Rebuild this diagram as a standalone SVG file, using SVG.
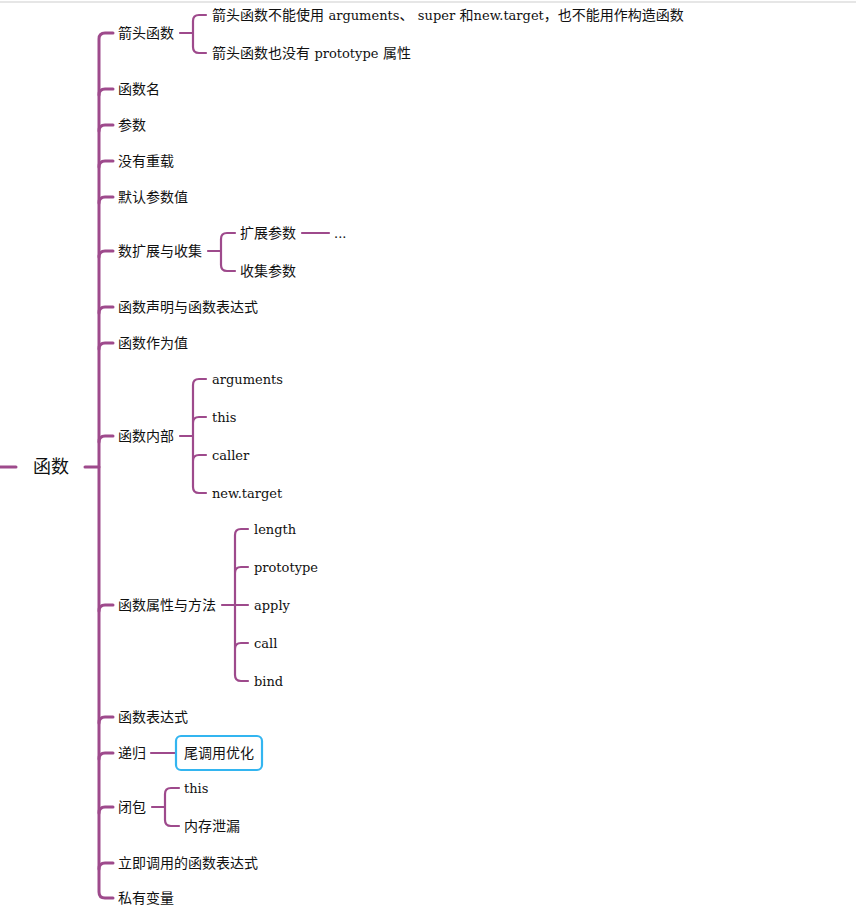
<svg xmlns="http://www.w3.org/2000/svg" width="856" height="911" viewBox="0 0 856 911">
<style>
  text { font-family: "DejaVu Serif", "Noto Sans CJK SC", serif; font-size: 14px; fill: #111; }
  .l { font-size: 13px; }
  .root { font-size: 18px; }
  .main { fill: none; stroke: #9E4A8C; stroke-width: 3; stroke-linecap: round; }
  .sub { fill: none; stroke: #9E4A8C; stroke-width: 2.2; stroke-linecap: round; }
  .box { fill: #fff; stroke: #33B5F0; stroke-width: 2.2; }
</style>
<rect x="0" y="0" width="856" height="911" fill="#fff"/>
<line x1="0" y1="2" x2="856" y2="2" stroke="#e6e6e6" stroke-width="2"/>
<g id="connectors">
  <path class="main" d="M0,467 H16 M85,467 H99"/>
  <path class="main" d="M113,33 H105 Q99,33 99,39 V892 Q99,898 105,898 H113"/>
  <path class="main" d="M99,95 Q99,89 105,89 H113 M99,131 Q99,125 105,125 H113 M99,167 Q99,161 105,161 H113 M99,203 Q99,197 105,197 H113 M99,257 Q99,251 105,251 H113 M99,313 Q99,307 105,307 H113 M99,349 Q99,343 105,343 H113 M99,442 Q99,436 105,436 H113 M99,611 Q99,605 105,605 H113 M99,723 Q99,717 105,717 H113 M99,759 Q99,753 105,753 H113 M99,813 Q99,807 105,807 H113 M99,869 Q99,863 105,863 H113"/>
  <path class="sub" d="M180,33 H193 M206,15 H199 Q193,15 193,21 V47 Q193,53 199,53 H206"/>
  <path class="sub" d="M208,251 H221 M235,233 H227 Q221,233 221,239 V265 Q221,271 227,271 H235 M302,233 H329"/>
  <path class="sub" d="M180,436 H193 M206,379 H199 Q193,379 193,385 V487 Q193,493 199,493 H206 M193,423 Q193,417 199,417 H206 M193,461 Q193,455 199,455 H206 M193,436 H193"/>
  <path class="sub" d="M222,605 H235 M248,529 H241 Q235,529 235,535 V675 Q235,681 241,681 H248 M235,573 Q235,567 241,567 H248 M235,605 H248 M235,649 Q235,643 241,643 H248"/>
  <path class="sub" d="M151,753 H176"/>
  <path class="sub" d="M152,807 H165 M179,788 H171 Q165,788 165,794 V820 Q165,826 171,826 H179"/>
</g>
<g id="root"><text class="root" x="33" y="473">函数</text></g>
<g id="n1"><text x="118" y="38">箭头函数</text></g>
<g id="n1a"><text x="212" y="20">箭头函数不能使用 <tspan class="l">arguments</tspan>、 <tspan class="l">super</tspan> 和<tspan class="l">new.target</tspan>，也不能用作构造函数</text></g>
<g id="n1b"><text x="212" y="58">箭头函数也没有 <tspan class="l">prototype</tspan> 属性</text></g>
<g id="n2"><text x="118" y="94">函数名</text></g>
<g id="n3"><text x="118" y="130">参数</text></g>
<g id="n4"><text x="118" y="166">没有重载</text></g>
<g id="n5"><text x="118" y="202">默认参数值</text></g>
<g id="n6"><text x="118" y="256">数扩展与收集</text></g>
<g id="n6a"><text x="240" y="238">扩展参数</text></g>
<g id="n6a1"><text class="l" x="334" y="238">...</text></g>
<g id="n6b"><text x="240" y="276">收集参数</text></g>
<g id="n7"><text x="118" y="312">函数声明与函数表达式</text></g>
<g id="n8"><text x="118" y="348">函数作为值</text></g>
<g id="n9"><text x="118" y="441">函数内部</text></g>
<g id="n9a"><text class="l" x="212" y="384">arguments</text></g>
<g id="n9b"><text class="l" x="212" y="422">this</text></g>
<g id="n9c"><text class="l" x="212" y="460">caller</text></g>
<g id="n9d"><text class="l" x="212" y="498">new.target</text></g>
<g id="n10"><text x="118" y="610">函数属性与方法</text></g>
<g id="n10a"><text class="l" x="254" y="534">length</text></g>
<g id="n10b"><text class="l" x="254" y="572">prototype</text></g>
<g id="n10c"><text class="l" x="254" y="610">apply</text></g>
<g id="n10d"><text class="l" x="254" y="648">call</text></g>
<g id="n10e"><text class="l" x="254" y="686">bind</text></g>
<g id="n11"><text x="118" y="722">函数表达式</text></g>
<g id="n12"><text x="118" y="758">递归</text></g>
<g id="n12a"><rect class="box" x="176" y="736" width="86" height="34" rx="5"/><text x="184" y="758">尾调用优化</text></g>
<g id="n13"><text x="118" y="812">闭包</text></g>
<g id="n13a"><text class="l" x="184" y="793">this</text></g>
<g id="n13b"><text x="184" y="831">内存泄漏</text></g>
<g id="n14"><text x="118" y="868">立即调用的函数表达式</text></g>
<g id="n15"><text x="118" y="903">私有变量</text></g>
</svg>
